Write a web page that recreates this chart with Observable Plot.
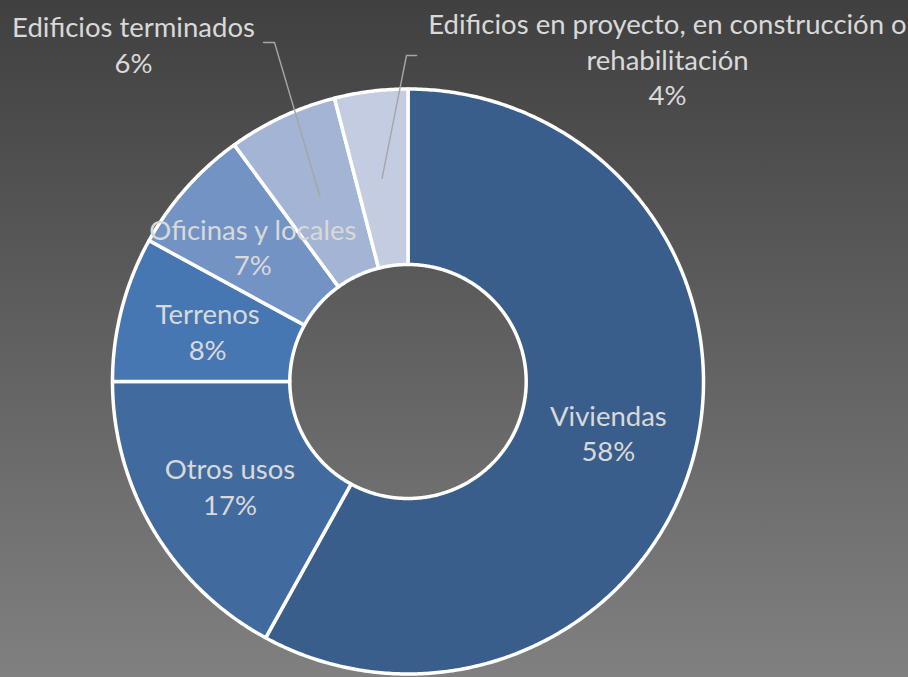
<!DOCTYPE html>
<html><head><meta charset="utf-8">
<script src="https://cdn.jsdelivr.net/npm/d3@7"></script>
<script src="https://cdn.jsdelivr.net/npm/@observablehq/plot@0.6"></script>
<style>
html,body{margin:0;padding:0;background:#808080;}
#chart{width:908px;height:677px;background:linear-gradient(to bottom,#404040,#808080);overflow:hidden;}
#chart svg{background:transparent !important;display:block;}
</style></head><body><div id="chart"></div>
<script>
// ---- data ----
const categories = ["Viviendas", "Otros usos", "Terrenos", "Oficinas y locales", "Edificios terminados", "Edificios en proyecto, en construcción o\nrehabilitación"];
const values = [58, 17, 8, 7, 6, 4];
const colors = ["#3a5e8c", "#416b9f", "#4777b3", "#7393c5", "#a3b4d5", "#c3cce1"];

// ---- layout ----
const W = 908, H = 677;
const CX = 407.5, CY = 381, RX = 295.5, RY = 292.5;
const R_IN = 0.4, R_OUT = 1, R_LABEL = 0.7;
const px2x = px => (px - CX) / RX;
const px2y = py => (CY - py) / RY;
// callouts for small outside slices: [label centre px, elbow px, end px]
const callouts = {
  4: {label: [133, 43], elbow: [274, 42], end: [263, 42]},
  5: {label: [667, 58], elbow: [406, 55], end: [416, 55]}
};

const total = d3.sum(values);
let acc = 0;
const slices = categories.map((name, i) => {
  const s = acc / total; acc += values[i]; const e = acc / total;
  return {i, name, value: values[i], start: s, end: e, mid: (s + e) / 2};
});
const polar = (t, r) => [r * Math.sin(2 * Math.PI * t), r * Math.cos(2 * Math.PI * t)];

const ring = [];
for (const sl of slices) {
  const n = Math.max(4, Math.ceil((sl.end - sl.start) * 720));
  const pts = [];
  for (let k = 0; k <= n; k++) pts.push(polar(sl.start + (sl.end - sl.start) * k / n, R_OUT));
  for (let k = n; k >= 0; k--) pts.push(polar(sl.start + (sl.end - sl.start) * k / n, R_IN));
  pts.push(pts[0]);
  pts.forEach(p => ring.push({name: sl.name, x: p[0], y: p[1]}));
}

const labels = slices.map(sl => {
  const text = sl.name + "\n" + sl.value + "%";
  if (callouts[sl.i]) {
    const c = callouts[sl.i];
    return {text, x: px2x(c.label[0]), y: px2y(c.label[1])};
  }
  const [x, y] = polar(sl.mid, R_LABEL);
  return {text, x, y};
});

const leaders = [];
for (const sl of slices) {
  const c = callouts[sl.i];
  if (!c) continue;
  const [x0, y0] = polar(sl.mid, R_LABEL);
  leaders.push({k: sl.i, x: x0, y: y0});
  leaders.push({k: sl.i, x: px2x(c.elbow[0]), y: px2y(c.elbow[1])});
  leaders.push({k: sl.i, x: px2x(c.end[0]), y: px2y(c.end[1])});
}

const chart = Plot.plot({
  width: W, height: H,
  margin: 0,
  style: {background: "transparent", overflow: "visible"},
  x: {domain: [px2x(0), px2x(W)], range: [0, W], axis: null},
  y: {domain: [px2y(H), px2y(0)], range: [H, 0], axis: null},
  color: {domain: categories, range: colors},
  marks: [
    Plot.line(ring, {x: "x", y: "y", z: "name", fill: "name", stroke: "white", strokeWidth: 3.5, strokeLinejoin: "round"}),
    Plot.line(leaders, {x: "x", y: "y", z: "k", stroke: "#a6a6a6", strokeWidth: 1.4}),
    Plot.text(labels, {x: "x", y: "y", text: "text", fill: "#d9d9d9", fontSize: 27.5, lineHeight: 1.29, fontFamily: "Lato, sans-serif"})
  ]
});
document.getElementById("chart").appendChild(chart);
</script>
</body></html>
